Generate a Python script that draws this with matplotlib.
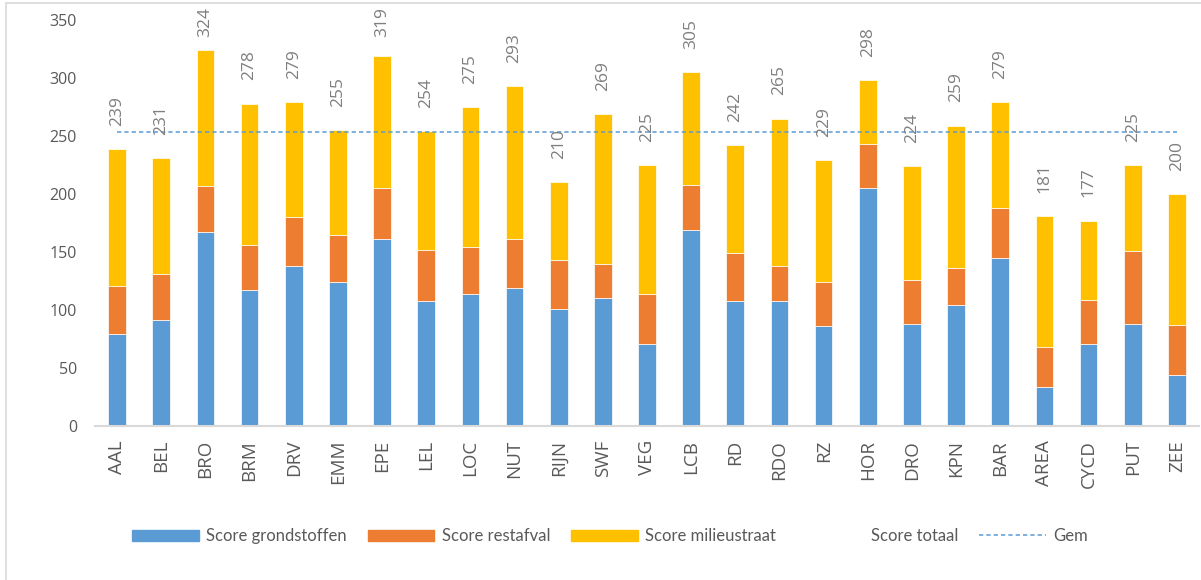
import numpy as np
import matplotlib.pyplot as plt
from matplotlib.patches import Rectangle, Patch
from matplotlib.lines import Line2D

regios = ['AAL', 'BEL', 'BRO', 'BRM', 'DRV', 'EMM', 'EPE', 'LEL', 'LOC', 'NUT',
          'RIJN', 'SWF', 'VEG', 'LCB', 'RD', 'RDO', 'RZ', 'HOR', 'DRO', 'KPN',
          'BAR', 'AREA', 'CYCD', 'PUT', 'ZEE']
grondstoffen = [79, 91, 167, 117, 138, 124, 161, 108, 114, 119,
                101, 110, 71, 169, 108, 108, 86, 205, 88, 104,
                145, 34, 71, 88, 44]
restafval = [42, 40, 40, 39, 42, 41, 44, 44, 40, 42,
             42, 30, 43, 39, 41, 30, 38, 38, 38, 32,
             43, 34, 38, 63, 43]
totaal = [239, 231, 324, 278, 279, 255, 319, 254, 275, 293,
          210, 269, 225, 305, 242, 265, 229, 298, 224, 259,
          279, 181, 177, 225, 200]

grond = np.array(grondstoffen)
rest = np.array(restafval)
tot = np.array(totaal)
milieustraat = tot - grond - rest
gem = tot.mean()

blauw = '#5B9BD5'
oranje = '#ED7D31'
geel = '#FFC000'
grijs = '#595959'

fig = plt.figure(figsize=(12.01, 5.8), dpi=100)
ax = fig.add_axes([95/1201, 1 - 426/580, 1104/1201, 406/580])

x = np.arange(len(regios))
w = 0.4
ax.bar(x, grond, w, color=blauw, edgecolor='white', linewidth=0.5)
ax.bar(x, rest, w, bottom=grond, color=oranje, edgecolor='white', linewidth=0.5)
ax.bar(x, milieustraat, w, bottom=grond + rest, color=geel, edgecolor='white', linewidth=0.5)
ax.plot([x[0], x[-1]], [gem, gem], color=blauw, lw=1.1, dashes=(2.8, 2))

# totalen boven de staven, niet buiten de grafiek
for xi, t in zip(x, tot):
    ax.text(xi, min(t + 20, 335), str(t), rotation=90, ha='center', va='bottom',
            fontsize=12.5, color='#7F7F7F', family='Open Sans')

ax.set_xlim(-0.5, len(regios) - 0.5)
ax.set_ylim(0, 350)
ax.set_yticks(np.arange(0, 351, 50))
ax.set_xticks(x)
ax.set_xticklabels(regios, rotation=90, family='Open Sans', fontsize=13.5, color=grijs)
for lbl in ax.get_yticklabels():
    lbl.set_family('Open Sans')
    lbl.set_fontsize(11.5)
    lbl.set_color(grijs)
ax.tick_params(axis='y', length=0, pad=13)
ax.tick_params(axis='x', length=0, pad=10)
for s in ['top', 'right', 'left']:
    ax.spines[s].set_visible(False)
ax.spines['bottom'].set_color('#D9D9D9')
ax.spines['bottom'].set_linewidth(1.5)

handles = [Patch(color=blauw), Patch(color=oranje), Patch(color=geel),
           Line2D([], [], linestyle='none'),
           Line2D([], [], color=blauw, lw=1.1, dashes=(2.8, 2))]
labels = ['Score grondstoffen', 'Score restafval', 'Score milieustraat', 'Score totaal', 'Gem']
leg = fig.legend(handles, labels, loc='center', bbox_to_anchor=(0.508, 1 - 536/580),
                 ncol=5, frameon=False, handlelength=4.0, handleheight=0.65,
                 handletextpad=0.45, columnspacing=1.25,
                 prop={'family': 'Lato', 'size': 12})
for t in leg.get_texts():
    t.set_color(grijs)

# rand van het grafiekvlak
fig.add_artist(Rectangle((6/1201, -0.5), 2, 1.5 - 3/580, transform=fig.transFigure,
                         fill=False, edgecolor='#D9D9D9', lw=1.2))

fig.savefig('out.png', dpi=100)
